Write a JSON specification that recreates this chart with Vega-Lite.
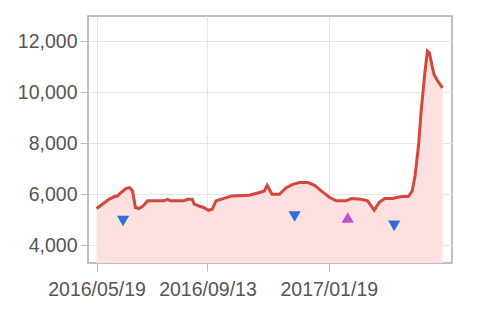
{
  "$schema": "https://vega.github.io/schema/vega-lite/v6.json",
  "width": 364,
  "height": 247,
  "autosize": "none",
  "padding": {"left": 88, "top": 16, "right": 48, "bottom": 53},
  "background": "white",
  "config": {
    "view": {"stroke": "#a9a9a9", "strokeWidth": 1.5},
    "axis": {
      "labelFont": "Liberation Sans",
      "labelFontSize": 19.5,
      "labelColor": "#555555",
      "gridColor": "#e6e6e6",
      "gridWidth": 1,
      "domain": false,
      "tickColor": "#bbbbbb",
      "tickSize": 8,
      "title": null
    }
  },
  "datasets": {
    "price": [
      {"date": "2016-05-19", "value": 5440},
      {"date": "2016-05-22", "value": 5520},
      {"date": "2016-06-01", "value": 5800},
      {"date": "2016-06-07", "value": 5910},
      {"date": "2016-06-10", "value": 5930},
      {"date": "2016-06-14", "value": 6070},
      {"date": "2016-06-19", "value": 6220},
      {"date": "2016-06-23", "value": 6260},
      {"date": "2016-06-26", "value": 6130},
      {"date": "2016-06-29", "value": 5480},
      {"date": "2016-07-03", "value": 5440},
      {"date": "2016-07-07", "value": 5540},
      {"date": "2016-07-12", "value": 5740},
      {"date": "2016-07-21", "value": 5740},
      {"date": "2016-07-29", "value": 5740},
      {"date": "2016-08-02", "value": 5800},
      {"date": "2016-08-05", "value": 5740},
      {"date": "2016-08-19", "value": 5740},
      {"date": "2016-08-23", "value": 5800},
      {"date": "2016-08-28", "value": 5800},
      {"date": "2016-08-30", "value": 5610},
      {"date": "2016-09-04", "value": 5540},
      {"date": "2016-09-09", "value": 5480},
      {"date": "2016-09-14", "value": 5370},
      {"date": "2016-09-18", "value": 5410},
      {"date": "2016-09-22", "value": 5740},
      {"date": "2016-09-27", "value": 5800},
      {"date": "2016-10-03", "value": 5870},
      {"date": "2016-10-08", "value": 5930},
      {"date": "2016-10-27", "value": 5960},
      {"date": "2016-11-07", "value": 6070},
      {"date": "2016-11-12", "value": 6130},
      {"date": "2016-11-15", "value": 6350},
      {"date": "2016-11-20", "value": 6000},
      {"date": "2016-11-28", "value": 6000},
      {"date": "2016-12-05", "value": 6260},
      {"date": "2016-12-12", "value": 6390},
      {"date": "2016-12-19", "value": 6460},
      {"date": "2016-12-28", "value": 6460},
      {"date": "2017-01-04", "value": 6350},
      {"date": "2017-01-11", "value": 6130},
      {"date": "2017-01-20", "value": 5870},
      {"date": "2017-01-27", "value": 5740},
      {"date": "2017-02-06", "value": 5740},
      {"date": "2017-02-12", "value": 5830},
      {"date": "2017-02-22", "value": 5800},
      {"date": "2017-03-01", "value": 5740},
      {"date": "2017-03-08", "value": 5370},
      {"date": "2017-03-13", "value": 5670},
      {"date": "2017-03-19", "value": 5830},
      {"date": "2017-03-27", "value": 5830},
      {"date": "2017-04-06", "value": 5910},
      {"date": "2017-04-13", "value": 5910},
      {"date": "2017-04-17", "value": 6130},
      {"date": "2017-04-20", "value": 6720},
      {"date": "2017-04-22", "value": 7370},
      {"date": "2017-04-24", "value": 8030},
      {"date": "2017-04-26", "value": 9070},
      {"date": "2017-04-28", "value": 9850},
      {"date": "2017-04-30", "value": 10640},
      {"date": "2017-05-03", "value": 11620},
      {"date": "2017-05-05", "value": 11560},
      {"date": "2017-05-07", "value": 11230},
      {"date": "2017-05-08", "value": 11030},
      {"date": "2017-05-10", "value": 10710},
      {"date": "2017-05-14", "value": 10440},
      {"date": "2017-05-19", "value": 10180}
    ],
    "signals": [
      {"date": "2016-06-16", "value": 4950, "type": "sell"},
      {"date": "2016-12-14", "value": 5125, "type": "sell"},
      {"date": "2017-02-08", "value": 5085, "type": "buy"},
      {"date": "2017-03-29", "value": 4760, "type": "sell"}
    ]
  },
  "encoding": {
    "x": {
      "field": "date", "type": "temporal",
      "scale": {"type": "utc", "domain": [{"year": 2016, "month": 5, "date": 10, "utc": true}, {"year": 2017, "month": 5, "date": 29, "utc": true}]},
      "axis": {
        "values": [
          {"year": 2016, "month": 5, "date": 19, "utc": true},
          {"year": 2016, "month": 9, "date": 13, "utc": true},
          {"year": 2017, "month": 1, "date": 19, "utc": true}
        ],
        "format": "%Y/%m/%d", "labelPadding": 9
      }
    },
    "y": {
      "field": "value", "type": "quantitative",
      "scale": {"domain": [3300, 13000], "zero": false, "nice": false},
      "axis": {"values": [4000, 6000, 8000, 10000, 12000], "format": ",d", "labelPadding": 3}
    }
  },
  "layer": [
    {
      "data": {"name": "price"},
      "mark": {"type": "area", "color": "#fde0e0", "opacity": 1, "clip": true}
    },
    {
      "data": {"name": "price"},
      "mark": {"type": "line", "color": "#d4473c", "strokeWidth": 3, "clip": true}
    },
    {
      "data": {"name": "signals"},
      "mark": {"type": "point", "filled": true, "opacity": 1, "size": 150},
      "encoding": {
        "shape": {"field": "type", "type": "nominal", "scale": {"domain": ["sell", "buy"], "range": ["triangle-down", "triangle-up"]}, "legend": null},
        "color": {"field": "type", "type": "nominal", "scale": {"domain": ["sell", "buy"], "range": ["#2f6fd6", "#c64fcc"]}, "legend": null}
      }
    }
  ]
}
